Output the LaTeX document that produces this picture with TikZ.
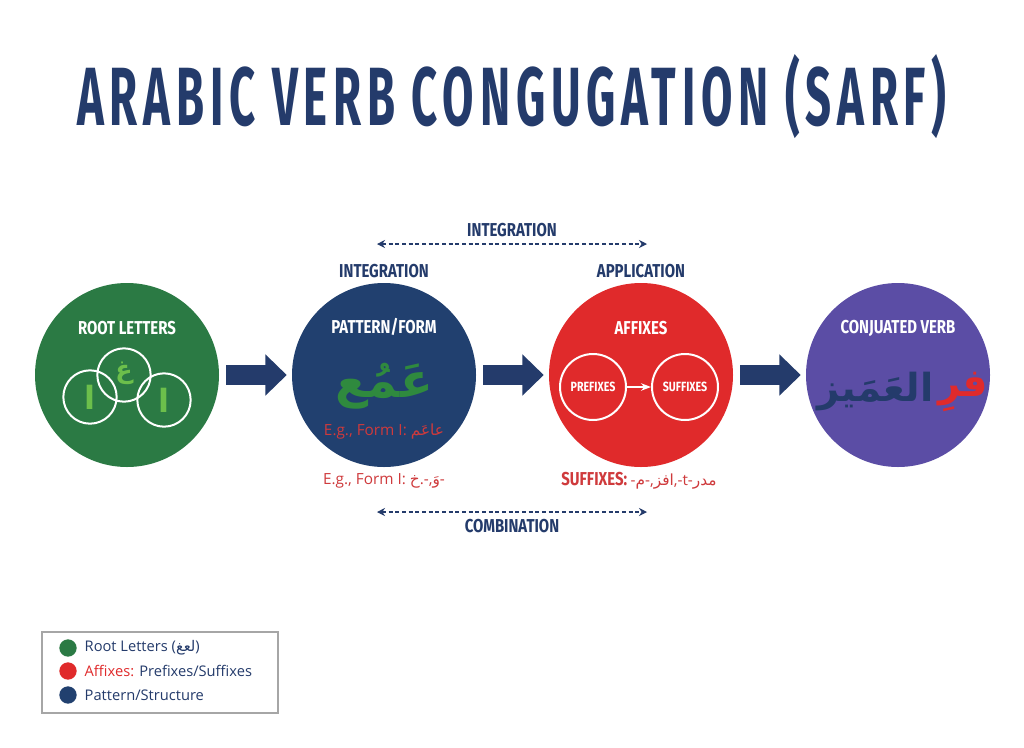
\documentclass[tikz,border=0pt]{standalone}
\usepackage{fontspec}
\setmainfont{Open Sans}
\newfontfamily\condfont[FakeStretch=0.8]{Fira Sans}
\newfontfamily\titlefont[FakeStretch=0.55,LetterSpace=7]{Fira Sans}
\newfontfamily\arabicfont[Script=Arabic]{DejaVu Sans}
\TeXXeTstate=1
\newcommand{\arab}[1]{{\arabicfont\beginR #1\endR}}
\usetikzlibrary{arrows.meta,calc,positioning}

\definecolor{navy}{HTML}{243B6B}
\definecolor{rootgreen}{HTML}{2B7A44}
\definecolor{patblue}{HTML}{21406F}
\definecolor{affred}{HTML}{E02A2B}
\definecolor{verbpurple}{HTML}{5B4DA5}
\definecolor{letgreen}{HTML}{6CBF4B}
\definecolor{patgreen}{HTML}{2F8A3E}
\definecolor{notered}{HTML}{CF3A3C}

\begin{document}
\begin{tikzpicture}[
    x=0.75pt, y=-0.75pt, >=Stealth,
    stage/.style={circle, minimum size=138pt, inner sep=0pt},
    head/.style={font=\condfont\bfseries\fontsize{14}{16}\selectfont, white},
    caption/.style={font=\condfont\bfseries\fontsize{14}{16}\selectfont, navy},
    flow/.style={-{Triangle[length=16pt,width=30pt]}, line width=15pt, navy},
    link/.style={{Stealth[length=6pt,width=6pt]}-{Stealth[length=6pt,width=6pt]}, dash pattern=on 3pt off 2pt, line width=0.8pt, navy},
    ring/.style={circle, draw=white, line width=1.5pt, inner sep=0pt},
    note/.style={font=\fontsize{11.5}{13}\selectfont, notered},
    legend/.style={font=\fontsize{11}{13}\selectfont, navy, anchor=west}
]

% page
\path[use as bounding box, fill=white] (0,0) rectangle (1024,747);

% title
\node[font=\titlefont\bfseries\fontsize{62}{70}\selectfont, navy] (title) at (512,97) {ARABIC VERB CONGUGATION (SARF)};

% the four stages
\node[stage, fill=rootgreen] (root) at (127,375) {};
\node[stage, fill=patblue] (pattern) at (384,375) {};
\node[stage, fill=affred] (affix) at (641,375) {};
\node[stage, fill=verbpurple] (verb) at (898,375) {};

\node[head] (rootlbl) at (127,328) {ROOT LETTERS};
\node[head] (patlbl) at (384,327) {PATTERN/FORM};
\node[head] (afflbl) at (641,328) {AFFIXES};
\node[head] (verblbl) at (898,328) {CONJUATED VERB};

% block arrows
\draw[flow] ($(root.east)+(7,0)$) -- ($(pattern.west)+(-5,0)$);
\draw[flow] ($(pattern.east)+(7,0)$) -- ($(affix.west)+(-5,0)$);
\draw[flow] ($(affix.east)+(7,0)$) -- ($(verb.west)+(-5,0)$);

% root letters rings
\node[ring, minimum size=40pt] (rl1) at (90,397) {};
\node[ring, minimum size=40pt] (rl2) at (124,375) {};
\node[ring, minimum size=40pt] (rl3) at (164,400) {};
\node[font=\bfseries\fontsize{24}{26}\selectfont, letgreen] at (rl1) {\arab{ا}};
\node[font=\bfseries\fontsize{19}{21}\selectfont, letgreen] at ($(rl2)+(0,-2)$) {\arab{غ}};
\node[font=\bfseries\fontsize{24}{26}\selectfont, letgreen] at (rl3) {\arab{ا}};

% pattern
\node[font=\bfseries\fontsize{36}{40}\selectfont, patgreen] (patword) at (384,386) {\arab{عَمُع}};
\node[note] (patex) at (384,432) {E.g., Form I: \arab{عاعَم}};

% affixes
\node[ring, minimum size=49.5pt, font=\condfont\bfseries\fontsize{10}{12}\selectfont, white] (pre) at (593,387) {PREFIXES};
\node[ring, minimum size=49.5pt, font=\condfont\bfseries\fontsize{10}{12}\selectfont, white] (suf) at (685,387) {SUFFIXES};
\draw[->, white, line width=1pt] (pre) -- (suf);

% conjugated verb
\node[font=\bfseries\fontsize{29}{34}\selectfont, navy, anchor=east] (verbword) at (938,392) {\arab{العَمَيز}};
\node[font=\bfseries\fontsize{29}{34}\selectfont, affred, anchor=west, inner sep=0pt] (verbpre) at (verbword.east) {\arab{فرِ}};

% captions above
\node[caption] (intlbl) at (384,271) {INTEGRATION};
\node[caption] (applbl) at (641,271) {APPLICATION};
\node[caption] (inttop) at (512,230) {INTEGRATION};
\coordinate (intL) at (377,244);
\coordinate (intR) at (647,244);
\draw[link] (intL) -- (intR);

% captions below
\node[note] (formex) at (384,481) {E.g., Form I: \arab{خ}.-,\arab{وَ}-};
\node[note, font=\condfont\bfseries\fontsize{14}{16}\selectfont] (sufex) at (639,481) {SUFFIXES: {\fontsize{11.5}{13}\selectfont\normalfont -\arab{م}-,\arab{افز},-t-\arab{مدر}}};
\coordinate (comL) at (377,512);
\coordinate (comR) at (647,512);
\draw[link] (comL) -- (comR);
\node[caption] (comlbl) at (512,526) {COMBINATION};

% legend
\draw[gray!70, line width=0.8pt] (42,632) rectangle (278,713);
\fill[rootgreen] (68,648) circle (6.5pt);
\fill[affred] (68,671) circle (6.5pt);
\fill[patblue] (68,695) circle (6.5pt);
\node[legend] (lg1) at (80,648) {Root Letters (\arab{لعغ})};
\node[legend] (lg2) at (80,671) {{\color{affred}Affixes:} Prefixes/Suffixes};
\node[legend] (lg3) at (80,695) {Pattern/Structure};

\end{tikzpicture}
\end{document}
